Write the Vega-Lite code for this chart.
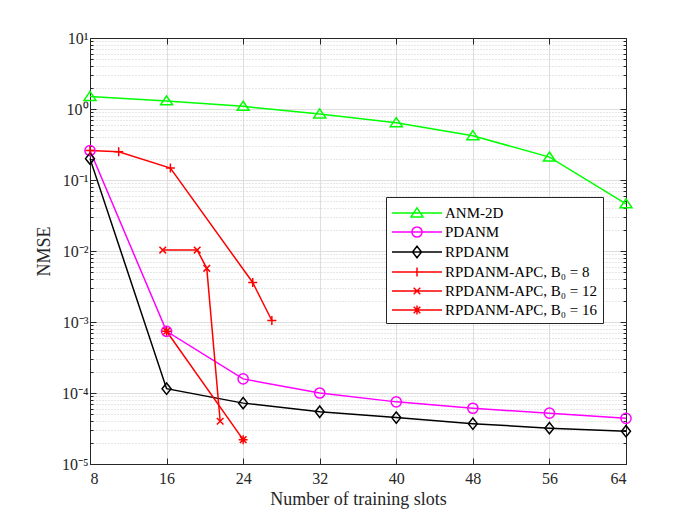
{
  "$schema": "https://vega.github.io/schema/vega-lite/v6.json",
  "width": 536,
  "height": 426,
  "autosize": {"type": "none"},
  "padding": {"left": 90, "top": 38, "right": 66, "bottom": 55},
  "background": "white",
  "data": {
    "values": [
      {"series": "ANM-2D", "x": 8, "y": 1.5},
      {"series": "ANM-2D", "x": 16, "y": 1.3},
      {"series": "ANM-2D", "x": 24, "y": 1.09},
      {"series": "ANM-2D", "x": 32, "y": 0.85},
      {"series": "ANM-2D", "x": 40, "y": 0.64},
      {"series": "ANM-2D", "x": 48, "y": 0.42},
      {"series": "ANM-2D", "x": 56, "y": 0.21},
      {"series": "ANM-2D", "x": 64, "y": 0.046},
      {"series": "PDANM", "x": 8, "y": 0.26},
      {"series": "PDANM", "x": 16, "y": 0.00074},
      {"series": "PDANM", "x": 24, "y": 0.000158},
      {"series": "PDANM", "x": 32, "y": 0.0001},
      {"series": "PDANM", "x": 40, "y": 0.000075},
      {"series": "PDANM", "x": 48, "y": 0.000061},
      {"series": "PDANM", "x": 56, "y": 0.000052},
      {"series": "PDANM", "x": 64, "y": 0.000044},
      {"series": "RPDANM", "x": 8, "y": 0.2},
      {"series": "RPDANM", "x": 16, "y": 0.000115},
      {"series": "RPDANM", "x": 24, "y": 0.000072},
      {"series": "RPDANM", "x": 32, "y": 0.0000545},
      {"series": "RPDANM", "x": 40, "y": 0.000045},
      {"series": "RPDANM", "x": 48, "y": 0.000037},
      {"series": "RPDANM", "x": 56, "y": 0.000032},
      {"series": "RPDANM", "x": 64, "y": 0.000029},
      {"series": "RPDANM-APC, B₀ = 8", "x": 8, "y": 0.26},
      {"series": "RPDANM-APC, B₀ = 8", "x": 11, "y": 0.25},
      {"series": "RPDANM-APC, B₀ = 8", "x": 16.4, "y": 0.147},
      {"series": "RPDANM-APC, B₀ = 8", "x": 25, "y": 0.0036},
      {"series": "RPDANM-APC, B₀ = 8", "x": 27, "y": 0.00105},
      {"series": "RPDANM-APC, B₀ = 12", "x": 15.6, "y": 0.0103},
      {"series": "RPDANM-APC, B₀ = 12", "x": 19.2, "y": 0.0103},
      {"series": "RPDANM-APC, B₀ = 12", "x": 20.2, "y": 0.0057},
      {"series": "RPDANM-APC, B₀ = 12", "x": 21.6, "y": 0.00004},
      {"series": "RPDANM-APC, B₀ = 16", "x": 16, "y": 0.00074},
      {"series": "RPDANM-APC, B₀ = 16", "x": 24, "y": 0.000022}
    ]
  },
  "layer": [
    {
      "resolve": {"scale": {"shape": "independent", "color": "independent"}},
      "layer": [
        {
          "mark": {"type": "line", "strokeWidth": 1.5},
          "encoding": {
            "x": {
              "field": "x", "type": "quantitative",
              "scale": {"domain": [8, 64], "nice": false, "zero": false},
              "axis": {
                "orient": "bottom",
                "title": "Number of training slots",
                "values": [8, 16, 24, 32, 40, 48, 56, 64],
                "grid": true,
                "gridColor": "#dedede",
                "tickSize": -6,
                "labelPadding": 12,
                "titlePadding": 4
              }
            },
            "y": {
              "field": "y", "type": "quantitative",
              "scale": {"type": "log", "domain": [0.00001, 10], "nice": false},
              "axis": {
                "orient": "left",
                "title": "NMSE",
                "values": [0.00001, 0.00002, 0.00003, 0.00004, 0.00005, 0.00006, 0.00007, 0.00008, 0.00009,
                           0.0001, 0.0002, 0.0003, 0.0004, 0.0005, 0.0006, 0.0007, 0.0008, 0.0009,
                           0.001, 0.002, 0.003, 0.004, 0.005, 0.006, 0.007, 0.008, 0.009,
                           0.01, 0.02, 0.03, 0.04, 0.05, 0.06, 0.07, 0.08, 0.09,
                           0.1, 0.2, 0.3, 0.4, 0.5, 0.6, 0.7, 0.8, 0.9,
                           1, 2, 3, 4, 5, 6, 7, 8, 9, 10],
                "labelExpr": "abs(log(datum.value)/LN10 - round(log(datum.value)/LN10)) < 0.01 ? '10' + ['⁻⁵','⁻⁴','⁻³','⁻²','⁻¹','⁰','¹'][round(log(datum.value)/LN10) + 5] : ''",
                "grid": true,
                "gridColor": {"condition": {"test": "abs(log(datum.value)/LN10 - round(log(datum.value)/LN10)) < 0.01", "value": "#dedede"}, "value": "#cfcfcf"},
                "gridDash": {"condition": {"test": "abs(log(datum.value)/LN10 - round(log(datum.value)/LN10)) < 0.01", "value": []}, "value": [1, 2]},
                "tickSize": {"condition": {"test": "abs(log(datum.value)/LN10 - round(log(datum.value)/LN10)) < 0.01", "value": -6}, "value": -3},
                "labelPadding": 8,
                "titlePadding": 8
              }
            },
            "color": {
              "field": "series", "type": "nominal",
              "scale": {
                "domain": ["ANM-2D", "PDANM", "RPDANM", "RPDANM-APC, B₀ = 8", "RPDANM-APC, B₀ = 12", "RPDANM-APC, B₀ = 16"],
                "range": ["#00ff00", "#ff00ff", "#000000", "#ff0000", "#ff0000", "#ff0000"]
              },
              "legend": null
            }
          }
        },
        {
          "mark": {"type": "point", "filled": false, "size": 144, "strokeWidth": 1.5, "opacity": 1},
          "encoding": {
            "x": {"field": "x", "type": "quantitative", "title": "Number of training slots"},
            "y": {"field": "y", "type": "quantitative", "title": "NMSE"},
            "color": {
              "field": "series", "type": "nominal",
              "scale": {
                "domain": ["ANM-2D", "PDANM", "RPDANM", "RPDANM-APC, B₀ = 8", "RPDANM-APC, B₀ = 12", "RPDANM-APC, B₀ = 16"],
                "range": ["#00ff00", "#ff00ff", "#000000", "#ff0000", "#ff0000", "#ff0000"]
              },
              "legend": null
            },
            "shape": {
              "field": "series", "type": "nominal",
              "scale": {
                "domain": ["ANM-2D", "PDANM", "RPDANM", "RPDANM-APC, B₀ = 8", "RPDANM-APC, B₀ = 12", "RPDANM-APC, B₀ = 16"],
                "range": [
                  "M0,-0.85L1,0.65L-1,0.65Z",
                  "M-0.85,0A0.85,0.85 0 1,0 0.85,0A0.85,0.85 0 1,0 -0.85,0",
                  "M0,-0.95L0.75,0L0,0.95L-0.75,0Z",
                  "M-0.75,0H0.75M0,-0.75V0.75",
                  "M-0.55,-0.55L0.55,0.55M-0.55,0.55L0.55,-0.55",
                  "M-0.75,0H0.75M0,-0.75V0.75M-0.55,-0.55L0.55,0.55M-0.55,0.55L0.55,-0.55"
                ]
              },
              "legend": null
            }
          }
        },
        {
          "transform": [{"filter": "false"}],
          "mark": {"type": "point", "filled": false, "strokeWidth": 1.5, "opacity": 1},
          "encoding": {
            "x": {"field": "x", "type": "quantitative", "title": "Number of training slots"},
            "y": {"field": "y", "type": "quantitative", "title": "NMSE"},
            "color": {
              "field": "series", "type": "nominal",
              "scale": {
                "domain": ["ANM-2D", "PDANM", "RPDANM", "RPDANM-APC, B₀ = 8", "RPDANM-APC, B₀ = 12", "RPDANM-APC, B₀ = 16"],
                "range": ["#00ff00", "#ff00ff", "#000000", "#ff0000", "#ff0000", "#ff0000"]
              },
              "legend": {
                "title": null,
                "orient": "none",
                "legendX": 296,
                "legendY": 159,
                "symbolSize": 400,
                "symbolStrokeWidth": 1.5,
                "symbolOpacity": 1,
                "labelOffset": 32,
                "labelFont": "Liberation Serif",
                "labelFontSize": 15,
                "labelColor": "#000000",
                "strokeColor": "#262626",
                "fillColor": "white",
                "padding": 5,
                "rowPadding": 0
              }
            },
            "shape": {
              "field": "series", "type": "nominal",
              "scale": {
                "domain": ["ANM-2D", "PDANM", "RPDANM", "RPDANM-APC, B₀ = 8", "RPDANM-APC, B₀ = 12", "RPDANM-APC, B₀ = 16"],
                "range": [
                  "M-1,0H4M1.5,-0.51L2.1,0.39L0.9,0.39Z",
                  "M-1,0H4M0.99,0A0.51,0.51 0 1,0 2.01,0A0.51,0.51 0 1,0 0.99,0",
                  "M-1,0H4M1.5,-0.57L1.95,0L1.5,0.57L1.05,0Z",
                  "M-1,0H4M1.05,0H1.95M1.5,-0.45V0.45",
                  "M-1,0H4M1.17,-0.33L1.83,0.33M1.17,0.33L1.83,-0.33",
                  "M-1,0H4M1.05,0H1.95M1.5,-0.45V0.45M1.17,-0.33L1.83,0.33M1.17,0.33L1.83,-0.33"
                ]
              },
              "legend": {
                "title": null,
                "orient": "none",
                "legendX": 296,
                "legendY": 159,
                "symbolSize": 400,
                "symbolStrokeWidth": 1.5,
                "symbolOpacity": 1,
                "labelOffset": 32,
                "labelFont": "Liberation Serif",
                "labelFontSize": 15,
                "labelColor": "#000000",
                "strokeColor": "#262626",
                "fillColor": "white",
                "padding": 5,
                "rowPadding": 0
              }
            }
          }
        }
      ]
    },
    {
      "transform": [{"filter": "false"}],
      "mark": {"type": "point"},
      "encoding": {
        "x": {
          "field": "x", "type": "quantitative",
          "axis": {"orient": "top", "title": null, "labels": false, "grid": false, "values": [8, 16, 24, 32, 40, 48, 56, 64], "tickSize": -6}
        },
        "y": {
          "field": "y", "type": "quantitative",
          "axis": {
            "orient": "right", "title": null, "labels": false, "grid": false,
            "values": [0.00001, 0.00002, 0.00003, 0.00004, 0.00005, 0.00006, 0.00007, 0.00008, 0.00009,
                       0.0001, 0.0002, 0.0003, 0.0004, 0.0005, 0.0006, 0.0007, 0.0008, 0.0009,
                       0.001, 0.002, 0.003, 0.004, 0.005, 0.006, 0.007, 0.008, 0.009,
                       0.01, 0.02, 0.03, 0.04, 0.05, 0.06, 0.07, 0.08, 0.09,
                       0.1, 0.2, 0.3, 0.4, 0.5, 0.6, 0.7, 0.8, 0.9,
                       1, 2, 3, 4, 5, 6, 7, 8, 9, 10],
            "tickSize": {"condition": {"test": "abs(log(datum.value)/LN10 - round(log(datum.value)/LN10)) < 0.01", "value": -6}, "value": -3}
          }
        }
      }
    }
  ],
  "resolve": {"axis": {"x": "independent", "y": "independent"}},
  "config": {
    "view": {"stroke": "#262626", "strokeWidth": 1},
    "axis": {
      "domainColor": "#262626",
      "tickColor": "#262626",
      "labelColor": "#262626",
      "titleColor": "#262626",
      "labelFont": "Liberation Serif",
      "labelFontSize": 16,
      "titleFont": "Liberation Serif",
      "titleFontSize": 18,
      "titleFontWeight": "normal",
      "gridOpacity": 1
    }
  }
}
